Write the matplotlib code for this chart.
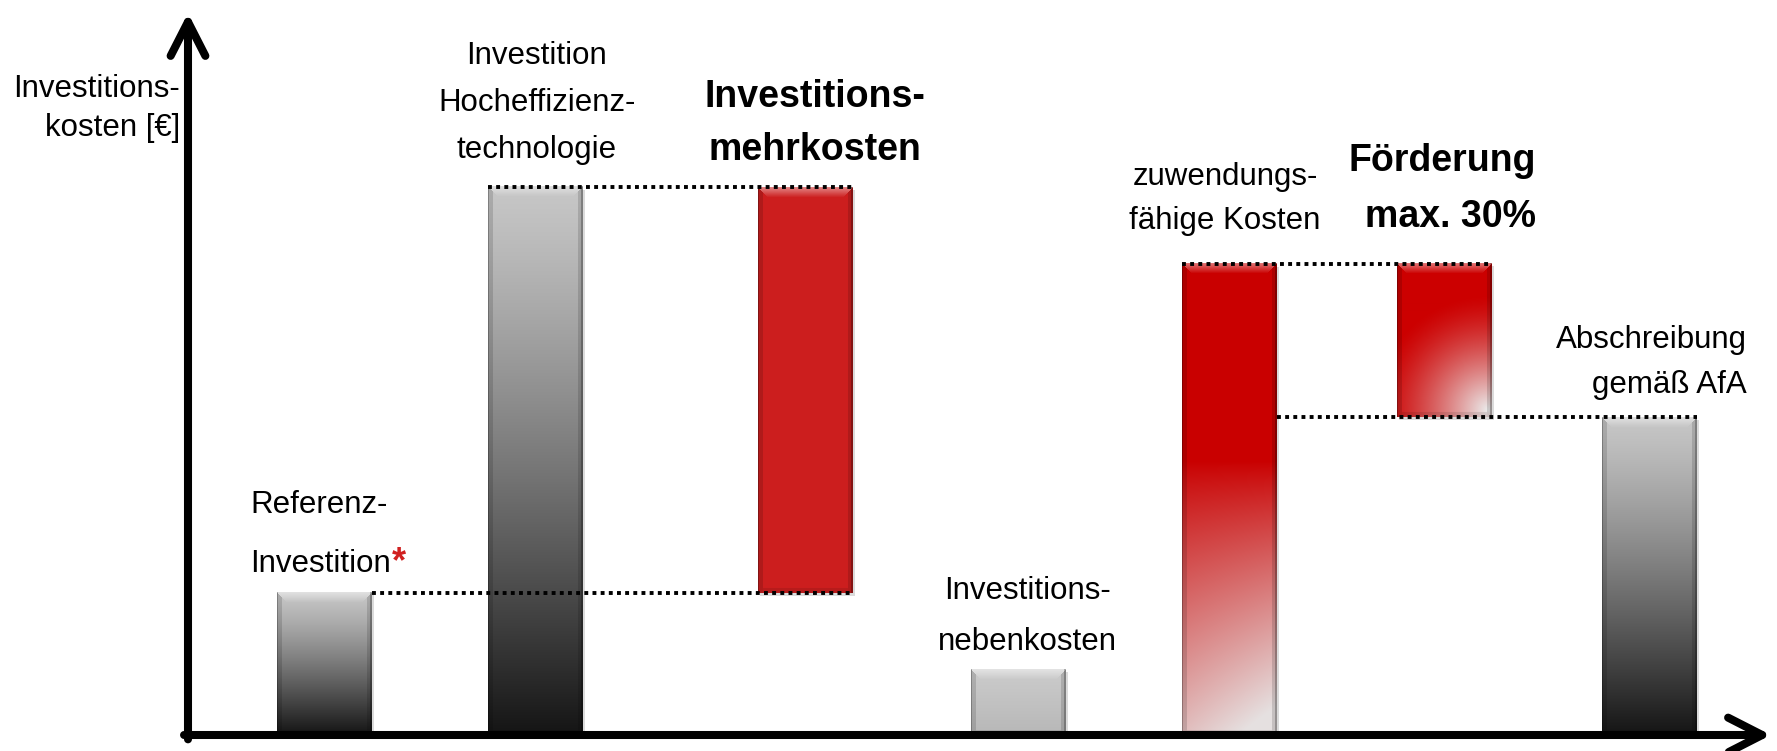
import numpy as np
import matplotlib
matplotlib.use("Agg")
import matplotlib.pyplot as plt

plt.rcParams['font.family'] = ['Liberation Sans', 'DejaVu Sans']

# data (relative investment cost, Hocheffizienz = 100)
labels = ['Referenz-\nInvestition', 'Investition\nHocheffizienz-\ntechnologie',
          'Investitions-\nmehrkosten', 'Investitions-\nnebenkosten',
          'zuwendungs-\nfähige Kosten', 'Förderung\nmax. 30%', 'Abschreibung\ngemäß AfA']
bottoms = [0, 0, 26, 0, 0, 58, 0]
heights = [26, 100, 74, 12, 86, 28, 58]
ylabel = 'Investitions-\nkosten [€]'

# layout / style
pos = [0, 1, 2.28, 3.29, 4.29, 5.31, 6.28]
width = 0.45
kinds = ['gray', 'gray', 'red', 'light', 'redfade', 'redradial', 'gray']


def bar_image(kind, H, W):
    t = np.linspace(0, 1, H)[:, None] * np.ones((1, W))
    u = np.ones((H, 1)) * np.linspace(0, 1, W)[None, :]
    img = np.zeros((H, W, 3))
    if kind == 'gray':
        v = 0.78 - 0.70 * t ** 1.2
        img[:] = v[..., None]
    elif kind == 'light':
        v = 0.80 - 0.08 * t
        img[:] = v[..., None]
    elif kind == 'red':
        img[:] = np.array([0.80, 0.12, 0.12])
    elif kind == 'redfade':
        s = np.clip((t - 0.42) / 0.58, 0, 1) ** 0.9
        s = np.clip(s * (0.85 + 0.25 * u), 0, 1)
        red = np.array([0.79, 0.0, 0.0])
        wh = np.array([0.90, 0.88, 0.88])
        img = red * (1 - s[..., None]) + wh * s[..., None]
    elif kind == 'redradial':
        yy = np.arange(H)[:, None] * np.ones((1, W))
        xx = np.ones((H, 1)) * np.arange(W)[None, :]
        d = np.hypot(xx - 0.95 * W, yy - 0.95 * H)
        s = np.clip(1 - d / (1.2 * W), 0, 1) ** 1.4
        red = np.array([0.80, 0.0, 0.0])
        wh = np.array([0.92, 0.92, 0.92])
        img = red * (1 - s[..., None]) + wh * s[..., None]
    # bevel
    rows = np.arange(H)[:, None] * np.ones((1, W))
    cols = np.ones((H, 1)) * np.arange(W)[None, :]
    bt = 10
    top = (rows < bt) & (cols >= rows) & (cols <= W - 1 - rows)
    k = (1 - rows / bt) * 0.45
    img = np.where(top[..., None], img + (1 - img) * k[..., None], img)
    side = ((cols < 5) | (cols > W - 6)) & ~top
    img = np.where(side[..., None], img * 0.86, img)
    edge = (cols > W - 3) | (cols < 1)
    img = np.where(edge[..., None], img * 0.75, img)
    bot = (rows > H - 6) & ~side
    img = np.where(bot[..., None], img * 0.9, img)
    return np.clip(img, 0, 1)


fig = plt.figure(figsize=(17.77, 7.51), dpi=100)
ax = fig.add_axes([188 / 1777, 16 / 751, (1771 - 188) / 1777, (735 - 13) / 751])
ax.set_xlim(-0.645, 6.858)
ax.set_ylim(0, 131.75)
ax.axis('off')

for i in range(len(heights)):
    x0 = pos[i] - width / 2
    x1 = pos[i] + width / 2
    y0 = bottoms[i]
    y1 = bottoms[i] + heights[i]
    p0 = ax.transData.transform((x0, y0))
    p1 = ax.transData.transform((x1, y1))
    W = int(round(p1[0] - p0[0]))
    H = int(round(p1[1] - p0[1]))
    # soft shadow
    ax.imshow(np.ones((2, 2, 3)) * 0.6, extent=(x0 + 0.012, x1 + 0.012, y0 - 0.6, y1 - 0.6),
              aspect='auto', alpha=0.35, zorder=1)
    ax.imshow(bar_image(kinds[i], H, W), extent=(x0, x1, y0, y1),
              aspect='auto', interpolation='bilinear', zorder=2)

ax.set_xlim(-0.645, 6.858)
ax.set_ylim(0, 131.75)

# dotted connector lines
dot = dict(color='black', lw=2.8, linestyle=(0, (1, 1.1)), zorder=4, dash_capstyle='butt')
ax.plot([pos[0] + width / 2, pos[2] + width / 2], [heights[0]] * 2, **dot)
ax.plot([pos[1] - width / 2, pos[2] + width / 2], [heights[1]] * 2, **dot)
ax.plot([pos[4] - width / 2, pos[5] + width / 2], [heights[4]] * 2, **dot)
ax.plot([pos[4] + width / 2, pos[6] + width / 2], [heights[6]] * 2, **dot)

# axis arrows
arr = dict(arrowstyle='->,head_length=2.45,head_width=1.25', lw=5.8, color='black',
           shrinkA=0, shrinkB=0, capstyle='round', joinstyle='round')
ax.annotate('', xy=(0, 1), xytext=(0, -0.006), xycoords='axes fraction', arrowprops=arr)
ax.annotate('', xy=(1, 0), xytext=(-0.0025, 0), xycoords='axes fraction', arrowprops=arr)

# text (va='baseline' anchors the last line)
fs = 22.5
fb = 27
ax.text(-0.682, 109.3, ylabel, ha='right', va='baseline', fontsize=fs, linespacing=1.38)
ref = ax.text(-0.351, 29.7, labels[0], ha='left', va='baseline', fontsize=fs, linespacing=2.25)
ax.annotate('*', xy=(1, 0), xycoords=ref, xytext=(1, 4.8), textcoords='offset points',
            ha='left', va='baseline', fontsize=26, fontweight='bold', color='#d02020')
ax.text(1.009, 105.3, labels[1], ha='center', va='baseline', fontsize=fs, linespacing=1.73)
ax.text(2.327, 104.9, labels[2], ha='center', va='baseline', fontsize=fb, fontweight='bold',
        linespacing=1.6)
ax.text(3.332, 15.5, labels[3], ha='center', va='baseline', fontsize=fs, linespacing=1.9)
ax.text(4.27, 92.4, labels[4], ha='center', va='baseline', fontsize=fs, linespacing=1.6)
ax.text(5.744, 92.7, labels[5], ha='right', va='baseline', fontsize=fb, fontweight='bold',
        linespacing=1.72)
ax.text(6.744, 62.4, labels[6], ha='right', va='baseline', fontsize=fs, linespacing=1.64)

fig.savefig('out.png', dpi=100)
